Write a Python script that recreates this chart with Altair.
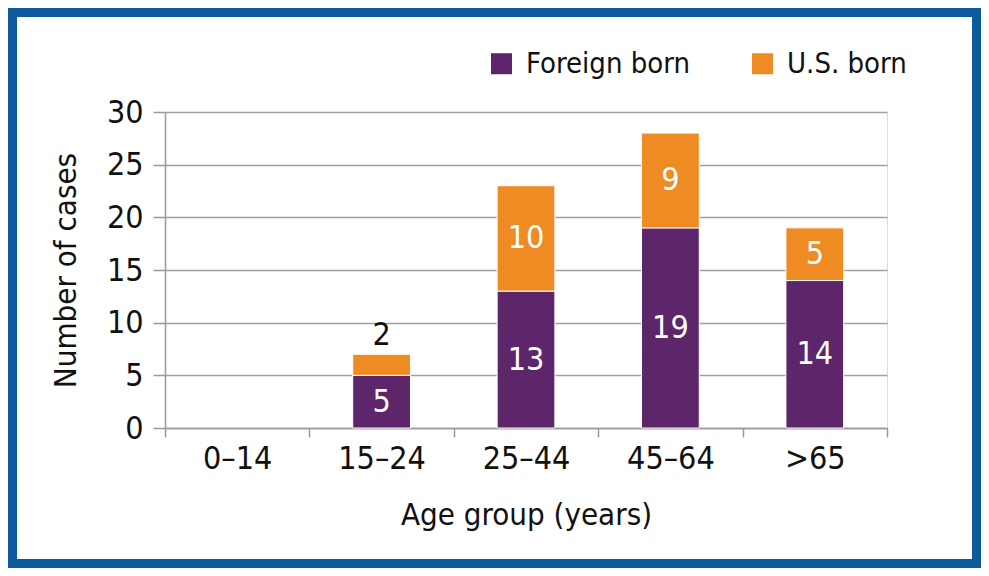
import altair as alt
import pandas as pd

age_groups = ["0–14", "15–24", "25–44", "45–64", ">65"]
foreign_born = [0, 5, 13, 19, 14]
us_born = [0, 2, 10, 9, 5]
series_names = ["Foreign born", "U.S. born"]
colors = ["#5d256a", "#ee8b22"]
y_ticks = [0, 5, 10, 15, 20, 25, 30]

FONT = "Liberation Sans Narrow, DejaVu Sans Condensed, sans-serif"

rows = []
for g, fb, us in zip(age_groups, foreign_born, us_born):
    cum = 0
    for name, v in zip(series_names, [fb, us]):
        if v > 0:
            rows.append({"group": g, "series": name, "value": v,
                         "order": series_names.index(name),
                         "mid": cum + v / 2, "top": cum + v,
                         "inside": v >= 3})
        cum += v
df = pd.DataFrame(rows)

W, H = 722, 316
PL, PT, PR, PB = 157, 104, 94, 140

x_enc = alt.X("group:N", sort=age_groups,
              scale=alt.Scale(domain=age_groups, paddingInner=0, paddingOuter=0),
              axis=alt.Axis(title="Age group (years)", labelAngle=0, tickBand="extent",
                            domainColor="#999999", tickColor="#999999", tickSize=9,
                            domainWidth=1.5, tickWidth=1.5,
                            labelFont=FONT, labelFontSize=32, labelColor="#111111",
                            labelPadding=6, titleFont=FONT, titleFontSize=31,
                            titleFontWeight="normal", titleColor="#111111", titlePadding=26))

bars = alt.Chart(df).mark_bar(stroke="white", strokeWidth=1,
                              width=alt.RelativeBandSize(0.4)).encode(
    x=x_enc,
    y=alt.Y("value:Q", stack="zero",
            scale=alt.Scale(domain=[0, 30], nice=False),
            axis=alt.Axis(title="Number of cases", values=y_ticks, grid=True,
                          gridColor="#a0a0a0", gridWidth=1.5,
                          domainColor="#999999", tickColor="#999999", tickSize=12,
                          domainWidth=1.5, tickWidth=1.5,
                          labelFont=FONT, labelFontSize=32, labelColor="#111111",
                          labelPadding=10, titleFont=FONT, titleFontSize=31,
                          titleFontWeight="normal", titleColor="#111111", titlePadding=24)),
    color=alt.Color("series:N", scale=alt.Scale(domain=series_names, range=colors),
                    legend=alt.Legend(title=None, orient="none", direction="horizontal",
                                      legendX=322, legendY=-63, symbolType="square",
                                      symbolSize=441, symbolStrokeWidth=0,
                                      labelFont=FONT, labelFontSize=29, labelColor="#111111",
                                      labelOffset=10, columnPadding=58, labelLimit=300)),
    order=alt.Order("order:Q"),
)

inside = alt.Chart(df).transform_filter("datum.inside").mark_text(
    font=FONT, fontSize=32, color="white", baseline="middle").encode(
    x=alt.X("group:N", sort=age_groups), y=alt.Y("mid:Q"), text="value:Q")

outside = alt.Chart(df).transform_filter("!datum.inside").mark_text(
    font=FONT, fontSize=32, color="#111111", baseline="alphabetic", dy=-9).encode(
    x=alt.X("group:N", sort=age_groups), y=alt.Y("top:Q"), text="value:Q")

frame = alt.Chart(pd.DataFrame({"a": [0]})).mark_rect(
    fill=None, stroke="#0a5a9c", strokeWidth=9).encode(
    x=alt.value(-PL + 4.5), x2=alt.value(W + PR - 4.5),
    y=alt.value(-PT + 4.5), y2=alt.value(H + PB - 4.5))

chart = alt.layer(bars, inside, outside, frame).properties(
    width=W, height=H,
    autosize=alt.AutoSizeParams(type="none"),
    padding={"left": PL, "top": PT, "right": PR, "bottom": PB},
).configure_view(stroke=None).configure(background="white")

chart.save("out.html", embed_options={"renderer": "svg", "actions": False})
